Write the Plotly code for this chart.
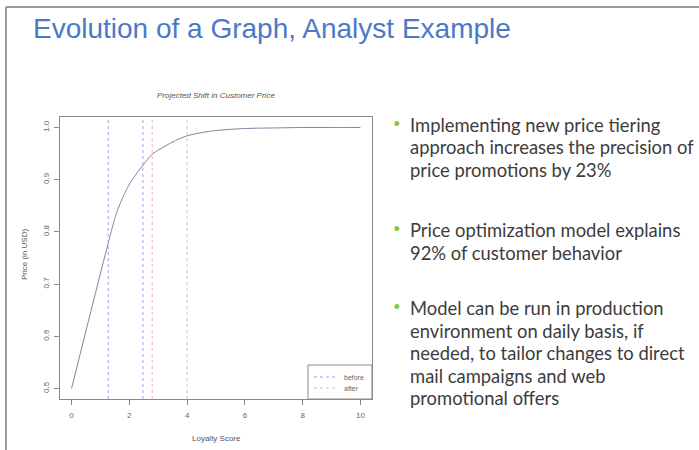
import plotly.graph_objects as go

# values
loyalty_score = [0, 1.3, 1.55, 1.85, 2.1, 2.45, 2.8, 3.2, 3.6, 4.0, 4.5, 5.0, 6.0, 7.0, 8.0, 9.0, 10.0]
price = [0.5, 0.785, 0.835, 0.875, 0.9, 0.926, 0.949, 0.963, 0.975, 0.984, 0.99, 0.994, 0.998, 0.999, 1.0, 1.0, 1.0]
before_x = [1.27, 2.47]
after_x = [2.79, 4.0]
x_ticks = [0, 2, 4, 6, 8, 10]
y_ticks = [0.5, 0.6, 0.7, 0.8, 0.9, 1.0]

bullets = [
    ["Implementing new price tiering", "approach increases the precision of", "price promotions by 23%"],
    ["Price optimization model explains", "92% of customer behavior"],
    ["Model can be run in production", "environment on daily basis, if", "needed, to tailor changes to direct",
     "mail campaigns and web", "promotional offers"],
]
bullet_tops = [125, 230, 308]

W, H = 699, 450
x_rng = [-0.4, 10.4]
y_rng = [0.48, 1.02]
before_col = "#a0a0dc"
after_col = "#e6b0be"


def vlines(xs):
    vx, vy = [], []
    for v in xs:
        vx += [v, v, None]
        vy += [y_rng[0], y_rng[1], None]
    return vx, vy


fig = go.Figure()
fig.add_trace(go.Scatter(x=loyalty_score, y=price, mode="lines", line=dict(color="#8b82a6", width=1),
                         line_shape="spline", showlegend=False))
bx, by = vlines(before_x)
fig.add_trace(go.Scatter(x=bx, y=by, mode="lines", showlegend=False,
                         line=dict(color=before_col, width=1, dash="dot")))
ax_, ay_ = vlines(after_x)
fig.add_trace(go.Scatter(x=ax_, y=ay_, mode="lines", showlegend=False,
                         line=dict(color=after_col, width=1, dash="dot")))

axis_style = dict(showline=True, mirror=True, linecolor="#8a8a8a", linewidth=1, showgrid=False,
                  zeroline=False, ticks="outside", ticklen=5, tickcolor="#8a8a8a",
                  tickfont=dict(family="Liberation Sans", size=8, color="#666666"))
fig.update_xaxes(range=x_rng, tickvals=x_ticks, domain=[60 / W, 372 / W], ticklabelstandoff=3, **axis_style)
fig.update_yaxes(range=y_rng, tickvals=y_ticks, ticktext=[f"{v:.1f}" for v in y_ticks], tickangle=-90,
                 domain=[1 - 399 / H, 1 - 117 / H], ticklabelstandoff=2, **axis_style)

small = dict(family="Liberation Sans", size=8, color="#555555")
ann = [
    dict(text="Evolution of a Graph, Analyst Example", x=31 / W, y=1 - 29 / H, xanchor="left", yanchor="middle",
         font=dict(family="Liberation Sans", size=28, color="#4a7ac6")),
    dict(text="<i>Projected Shift in Customer Price</i>", x=216 / W, y=1 - 95 / H, xanchor="center",
         yanchor="middle", font=small),
    dict(text="Loyalty Score", x=216 / W, y=1 - 438 / H, xanchor="center", yanchor="middle", font=small),
    dict(text="Price (in USD)", x=24 / W, y=1 - 255 / H, xanchor="center", yanchor="middle", textangle=-90,
         font=small),
    # legend labels
    dict(text="before", x=342 / W, y=1 - 377 / H, xanchor="left", yanchor="middle",
         font=dict(family="Liberation Sans", size=7, color="#666666")),
    dict(text="after", x=342 / W, y=1 - 388 / H, xanchor="left", yanchor="middle",
         font=dict(family="Liberation Sans", size=7, color="#666666")),
]
for top, lines in zip(bullet_tops, bullets):
    ann.append(dict(text="•", x=397 / W, y=1 - (top - 2) / H, xanchor="center", yanchor="middle",
                    font=dict(family="Lato", size=13, color="#8cc63f")))
    for i, line in enumerate(lines):
        ann.append(dict(text=line, x=408 / W, y=1 - (top + 22.5 * i) / H, xanchor="left", yanchor="middle",
                        font=dict(family="Lato", size=18.4, color="#3c3c3c")))
for a in ann:
    a.update(xref="paper", yref="paper", showarrow=False)

shapes = [
    # slide frame
    dict(type="line", x0=6 / W, x1=1, y0=1 - 7 / H, y1=1 - 7 / H, line=dict(color="#9a9a9a", width=2)),
    dict(type="line", x0=6 / W, x1=6 / W, y0=0, y1=1 - 7 / H, line=dict(color="#9a9a9a", width=2)),
    # legend box and samples
    dict(type="rect", x0=308 / W, x1=372 / W, y0=1 - 399 / H, y1=1 - 365 / H,
         line=dict(color="#8a8a8a", width=1), fillcolor="white"),
    dict(type="line", x0=314 / W, x1=336 / W, y0=1 - 377 / H, y1=1 - 377 / H,
         line=dict(color=before_col, width=1, dash="dot")),
    dict(type="line", x0=314 / W, x1=336 / W, y0=1 - 388 / H, y1=1 - 388 / H,
         line=dict(color=after_col, width=1, dash="dot")),
]
for s in shapes:
    s.update(xref="paper", yref="paper")

fig.update_layout(
    width=W, height=H, autosize=False, margin=dict(l=0, r=0, t=0, b=0),
    paper_bgcolor="white", plot_bgcolor="white", annotations=ann, shapes=shapes, showlegend=False,
)

fig.write_html("out.html", config={"displayModeBar": False},
               post_script="document.body.style.margin='0';document.body.style.overflow='hidden';")
